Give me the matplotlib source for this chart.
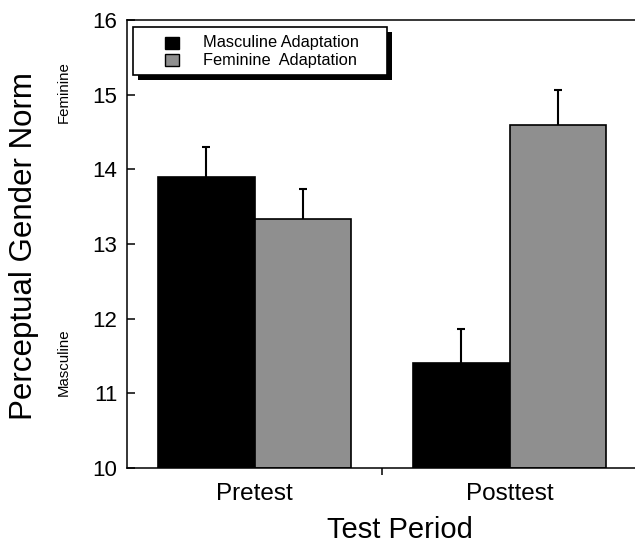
import matplotlib
matplotlib.use("Agg")
import matplotlib.pyplot as plt
from matplotlib.patches import Rectangle
import numpy as np

plt.rcParams['font.family'] = ['Liberation Sans', 'DejaVu Sans']

categories = ["Pretest", "Posttest"]
series_names = ["Masculine Adaptation", "Feminine  Adaptation"]
masc_vals = [13.90, 11.40]
masc_err = [0.40, 0.46]
fem_vals = [13.33, 14.59]
fem_err = [0.40, 0.47]
yticks = [10, 11, 12, 13, 14, 15, 16]

W, H = 635, 546
fig = plt.figure(figsize=(W / 100, H / 100), dpi=100)

def fx(px):
    return px / W

def fy(py):
    return 1 - py / H

ax = fig.add_axes([fx(127), fy(468), fx(637) - fx(127), fy(20) - fy(468)])

x = np.arange(len(categories))
bw = 0.38
black = "#000000"
gray = "#8f8f8f"
ax.bar(x - bw / 2, np.array(masc_vals) - 10, bw, bottom=10, color=black,
       edgecolor="black", linewidth=1.2, zorder=2)
ax.bar(x + bw / 2, np.array(fem_vals) - 10, bw, bottom=10, color=gray,
       edgecolor="black", linewidth=1.2, zorder=2)
for xs, vals, errs in [(x - bw / 2, masc_vals, masc_err), (x + bw / 2, fem_vals, fem_err)]:
    eb = ax.errorbar(xs, vals, yerr=[np.zeros(2), errs], fmt="none",
                     ecolor="black", elinewidth=1.5, capsize=2.6, capthick=1.5, zorder=1)
    caps = eb[1]
    if len(caps) == 2:
        caps[0].set_visible(False)

ax.set_xlim(-0.5, 1.5)
ax.set_ylim(10, 16)
ax.set_yticks(yticks)
ax.set_yticklabels([str(t) for t in yticks], fontsize=16)
ax.tick_params(axis="y", direction="in", length=6, width=1.1, pad=7)
ax.set_xticks(x)
ax.set_xticklabels(categories, fontsize=17.5)
ax.tick_params(axis="x", which="major", length=0, pad=11)
ax.set_xticks([0.5], minor=True)
ax.tick_params(axis="x", which="minor", direction="out", length=5, width=1.1)

for s in ["left", "bottom", "top"]:
    ax.spines[s].set_linewidth(1.1)
ax.spines["right"].set_visible(False)

# axis labels
fig.text(fx(24), fy(246), "Perceptual Gender Norm", rotation=90,
         ha="center", va="center", fontsize=22.5)
fig.text(fx(400), fy(530), "Test Period", ha="center", va="center", fontsize=21)
fig.text(fx(64), fy(92), "Feminine", rotation=90, ha="center", va="center", fontsize=10.8)
fig.text(fx(64), fy(362), "Masculine", rotation=90, ha="center", va="center", fontsize=10.8)

# legend box with shadow
shadow = Rectangle((fx(138), fy(80)), fx(387) - fx(133), fy(27) - fy(75),
                   transform=fig.transFigure, facecolor="black", edgecolor="black",
                   linewidth=0, zorder=5)
box = Rectangle((fx(133), fy(75)), fx(387) - fx(133), fy(27) - fy(75),
                transform=fig.transFigure, facecolor="white", edgecolor="black",
                linewidth=1.2, zorder=6)
fig.add_artist(shadow)
fig.add_artist(box)
for i, (name, col) in enumerate(zip(series_names, [black, gray])):
    yc = 43 + i * 17
    sq = Rectangle((fx(165), fy(yc + 6)), fx(179) - fx(165), fy(yc - 6) - fy(yc + 6),
                   transform=fig.transFigure, facecolor=col, edgecolor="black",
                   linewidth=1.0, zorder=7)
    fig.add_artist(sq)
    fig.text(fx(203), fy(yc), name, ha="left", va="center", fontsize=11.8, zorder=8)

fig.savefig("out.png", dpi=100)
